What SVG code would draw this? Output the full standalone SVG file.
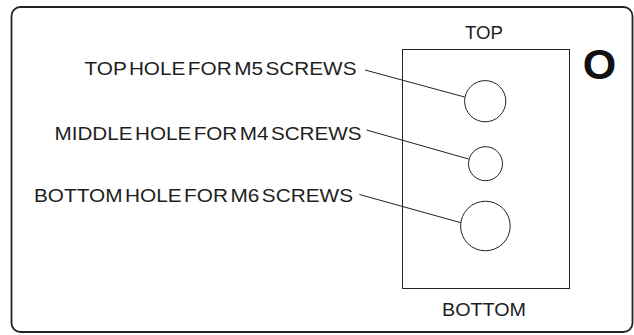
<svg xmlns="http://www.w3.org/2000/svg" width="634" height="335" viewBox="0 0 634 335">
<style>
.t{font-family:"Liberation Sans",Arial,sans-serif;font-size:19px;fill:#1e1e1e;word-spacing:-3px}
.ln{fill:none;stroke:#222;stroke-width:1}
.hole{fill:#fff;stroke:#222;stroke-width:1}
</style>
<rect width="634" height="335" fill="#fff"/>
<g id="frame">
<rect x="11.5" y="7" width="621" height="325" rx="9" ry="9" fill="none" stroke="#222" stroke-width="1.8"/>
</g>
<g id="plate">
<rect x="402.5" y="49.5" width="167" height="239" class="ln"/>
<text class="t" x="484" y="39" text-anchor="middle" textLength="38" lengthAdjust="spacingAndGlyphs">TOP</text>
<text class="t" x="484" y="316" text-anchor="middle" textLength="84" lengthAdjust="spacingAndGlyphs">BOTTOM</text>
</g>
<g id="mark">
<text x="599.5" y="79" text-anchor="middle" style="font-family:'Liberation Sans',Arial,sans-serif;font-size:43px;font-weight:bold;fill:#111">O</text>
</g>
<g id="hole-top">
<circle cx="485.2" cy="101.2" r="20.6" class="hole"/>
<text class="t" x="84.5" y="74.5" textLength="272" lengthAdjust="spacingAndGlyphs">TOP HOLE FOR M5 SCREWS</text>
</g>
<g id="hole-middle">
<circle cx="485.5" cy="163.7" r="17" class="hole"/>
<text class="t" x="54.5" y="139.5" textLength="307" lengthAdjust="spacingAndGlyphs">MIDDLE HOLE FOR M4 SCREWS</text>
</g>
<g id="hole-bottom">
<circle cx="485.4" cy="226" r="24.8" class="hole"/>
<text class="t" x="34" y="202" textLength="319" lengthAdjust="spacingAndGlyphs">BOTTOM HOLE FOR M6 SCREWS</text>
</g>
<g id="connectors">
<line x1="365" y1="70" x2="464.6" y2="97" class="ln"/>
<line x1="366.5" y1="130" x2="468.5" y2="159" class="ln"/>
<line x1="359.5" y1="194.5" x2="460.8" y2="222.7" class="ln"/>
</g>
</svg>
